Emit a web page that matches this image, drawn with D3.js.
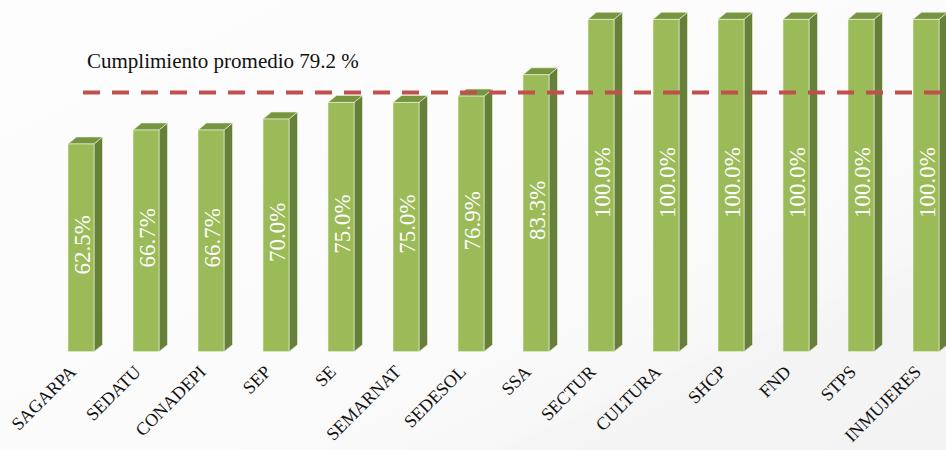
<!DOCTYPE html>
<html><head><meta charset="utf-8">
<script src="https://cdn.jsdelivr.net/npm/d3@7"></script>
<style>
html,body{margin:0;padding:0;background:#fbfbfb;}
svg{display:block;}
</style></head>
<body>
<svg id="chart" width="946" height="450"></svg>
<script>
const categories = ["SAGARPA","SEDATU","CONADEPI","SEP","SE","SEMARNAT","SEDESOL","SSA","SECTUR","CULTURA","SHCP","FND","STPS","INMUJERES"];
const values = [62.5, 66.7, 66.7, 70.0, 75.0, 75.0, 76.9, 83.3, 100.0, 100.0, 100.0, 100.0, 100.0, 100.0];
const averageText = "Cumplimiento promedio 79.2 %";
const averageLineLevel = [78.0];
const yDomain = [0, 100];

const W = 946, H = 450;
const svg = d3.select("#chart");

// background
const defs = svg.append("defs");
const bg = defs.append("linearGradient").attr("id","bg").attr("x1","0").attr("y1","0").attr("x2","1").attr("y2","1");
bg.append("stop").attr("offset","0").attr("stop-color","#fdfdfd");
bg.append("stop").attr("offset","0.6").attr("stop-color","#fbfbfb");
bg.append("stop").attr("offset","1").attr("stop-color","#f2f2f2");
svg.append("rect").attr("width",W).attr("height",H).attr("fill","url(#bg)");
svg.append("path").attr("d","M500,450 L946,250 L946,450 Z").attr("fill","#f4f4f4").attr("opacity",0.6);

const x = d3.scaleBand().domain(categories).range([48.5, 958.5]).paddingInner(0.6).paddingOuter(0.3);
const y = d3.scaleLinear().domain(yDomain).range([351.7, 19.3]);
const dx = 8.5, dy = 7;
const bw = x.bandwidth();

const data = categories.map((c,i)=>({c, v: values[i]}));
const g = svg.append("g");
const bars = g.selectAll("g.bar").data(data).enter().append("g").attr("class","bar");

// side
bars.append("path").attr("fill","#66803a").attr("stroke","#eef3e3").attr("stroke-width",0.6)
  .attr("d", d=>{const x0=x(d.c)+bw, yt=y(d.v), yb=y(0);
    return `M${x0},${yt}L${x0+dx},${yt-dy}L${x0+dx},${yb-dy}L${x0},${yb}Z`;});
// top
bars.append("path").attr("fill","#77953f").attr("stroke","#eef3e3").attr("stroke-width",0.6)
  .attr("d", d=>{const x0=x(d.c), yt=y(d.v);
    return `M${x0},${yt}L${x0+dx},${yt-dy}L${x0+bw+dx},${yt-dy}L${x0+bw},${yt}Z`;});
// front
bars.append("rect").attr("fill","#9bbb59").attr("stroke","#eef3e3").attr("stroke-width",0.6)
  .attr("x", d=>x(d.c)).attr("y", d=>y(d.v)).attr("width", bw).attr("height", d=>y(0)-y(d.v));

// value labels
bars.append("text")
  .attr("transform", d=>`translate(${x(d.c)+bw/2+1},${(y(d.v)+y(0))/2 - 3}) rotate(-90)`)
  .attr("text-anchor","middle").attr("dominant-baseline","central")
  .attr("fill","#ffffff").attr("font-family","'Liberation Serif', serif").attr("font-size",23)
  .text(d=>d.v.toFixed(1)+"%");

// category labels
svg.append("g").selectAll("text").data(categories).enter().append("text")
  .attr("transform", d=>`translate(${x(d)+bw/2-4},${373}) rotate(-45)`)
  .attr("text-anchor","end")
  .attr("fill","#111").attr("font-family","'Liberation Serif', serif").attr("font-size",18)
  .text(d=>d);

// average line
svg.append("g").selectAll("line").data(averageLineLevel).enter().append("line")
  .attr("x1",83).attr("x2",W).attr("y1",d=>y(d)).attr("y2",d=>y(d))
  .attr("stroke","#c0504d").attr("stroke-width",4).attr("stroke-dasharray","17,12");

svg.append("text").attr("x",87).attr("y",68)
  .attr("font-family","'Liberation Serif', serif").attr("font-size",21).attr("fill","#111")
  .text(averageText);
</script>
</body></html>
